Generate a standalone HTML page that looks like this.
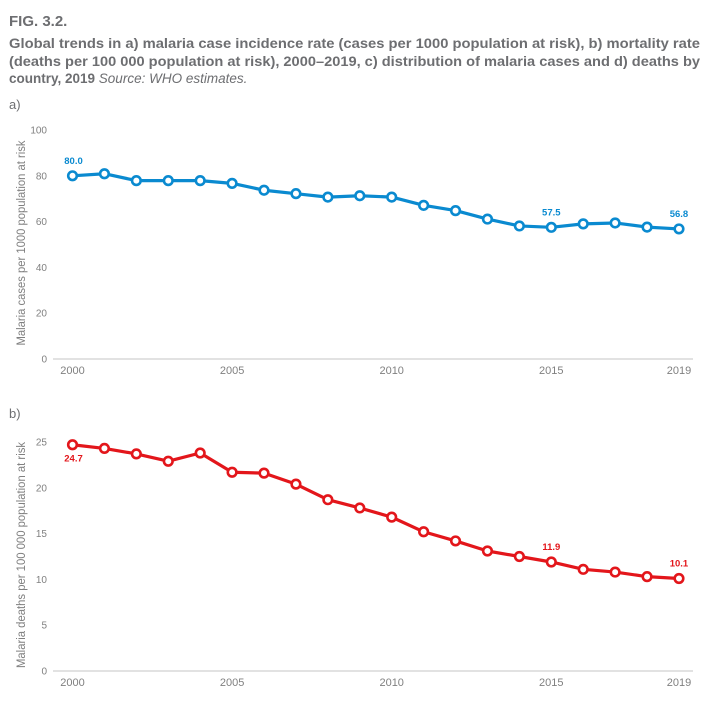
<!DOCTYPE html>
<html><head><meta charset="utf-8"><style>
html,body{margin:0;padding:0;background:#fff;}
body{width:710px;height:709px;overflow:hidden;font-family:"Liberation Sans",sans-serif;}
</style></head><body>
<svg id="svg" width="710" height="709" viewBox="0 0 710 709" xmlns="http://www.w3.org/2000/svg">
<text x="9" y="26" font-size="15" font-weight="bold" fill="#6d6e71">FIG. 3.2.</text>
<text font-size="13.5" font-weight="bold" fill="#6d6e71">
<tspan x="9" y="48" textLength="691" lengthAdjust="spacingAndGlyphs">Global trends in a) malaria case incidence rate (cases per 1000 population at risk), b) mortality rate</tspan>
<tspan x="9" y="66" textLength="691" lengthAdjust="spacingAndGlyphs">(deaths per 100 000 population at risk), 2000–2019, c) distribution of malaria cases and d) deaths by</tspan>
<tspan x="9" y="83">country, 2019 <tspan font-weight="normal" font-style="italic">Source: WHO estimates.</tspan></tspan>
</text>
<text x="9" y="109" font-size="13" fill="#6d6e71">a)</text>
<text x="9" y="418" font-size="13" fill="#6d6e71">b)</text>
<g id="chartA"></g>
<g id="chartB"></g>
</svg>
<script>
const years = [2000,2001,2002,2003,2004,2005,2006,2007,2008,2009,2010,2011,2012,2013,2014,2015,2016,2017,2018,2019];
const incidence = [80.0,80.9,77.9,77.9,77.9,76.7,73.7,72.2,70.7,71.3,70.7,67.1,64.8,61.1,58.1,57.5,59.0,59.4,57.6,56.8];
const mortality = [24.7,24.3,23.7,22.9,23.8,21.7,21.6,20.4,18.7,17.8,16.8,15.2,14.2,13.1,12.5,11.9,11.1,10.8,10.3,10.1];
const xTicks = [2000,2005,2010,2015,2019];
const yTicksA = [0,20,40,60,80,100];
const yTicksB = [0,5,10,15,20,25];
const labelYears = [2000,2015,2019];

const NS = "http://www.w3.org/2000/svg";
function mk(tag, attrs, parent){const e=document.createElementNS(NS,tag);for(const k in attrs)e.setAttribute(k,attrs[k]);parent.appendChild(e);return e;}
const xScale = y => 72.5 + (y-2000)*31.92;

function draw(g, vals, yTicks, yMax, y0, yTop, color, title, titleCenter, titleLen, labelBelowFirst, dec){
  const ys = v => y0 - v/yMax*(y0-yTop);
  const axis = mk('line',{x1:53,x2:693,y1:y0,y2:y0,stroke:'#d9d9d9','stroke-width':1.5},g);
  
  
  yTicks.forEach(t=>{
    const tx=mk('text',{x:47,y:ys(t)+3.5,'font-size':10,fill:'#808080','text-anchor':'end'},g);
    tx.textContent=t;
    
    
  });
  xTicks.forEach(t=>{
    const tx=mk('text',{x:xScale(t),y:y0+15,'font-size':11,fill:'#808080','text-anchor':'middle'},g);
    tx.textContent=t;
    
    
  });
  const yt=mk('text',{x:0,y:0,'font-size':11.5,fill:'#808080','text-anchor':'middle',textLength:titleLen,lengthAdjust:'spacingAndGlyphs',transform:`translate(25,${titleCenter}) rotate(-90)`},g);
  yt.textContent=title;
  
  
  const pts = vals.map((v,i)=>xScale(years[i])+','+ys(v)).join(' ');
  const pl=mk('polyline',{points:pts,fill:'none',stroke:color,'stroke-width':3.2,'stroke-linejoin':'round'},g);
  
  
  vals.forEach((v,i)=>{
    const c=mk('circle',{cx:xScale(years[i]),cy:ys(v),r:4.3,fill:'#fff',stroke:color,'stroke-width':2.6},g);
    
    
  });
  labelYears.forEach(yr=>{
    const i=years.indexOf(yr);const v=vals[i];
    const below = labelBelowFirst && i===0;
    const tx=mk('text',{x:xScale(yr)+(i===0?1:0),y:below?ys(v)+17:ys(v)-12,'font-size':9.5,'font-weight':'bold',fill:color,'text-anchor':'middle'},g);
    tx.textContent=v.toFixed(dec);
    
    
  });
}
draw(document.getElementById('chartA'), incidence, yTicksA, 100, 359, 130, '#0a8ad0', 'Malaria cases per 1000 population at risk', 243, 205, false, 1);
draw(document.getElementById('chartB'), mortality, yTicksB, 25, 671, 442, '#e3161b', 'Malaria deaths per 100 000 population at risk', 555, 226, true, 1);
</script>
</body></html>
